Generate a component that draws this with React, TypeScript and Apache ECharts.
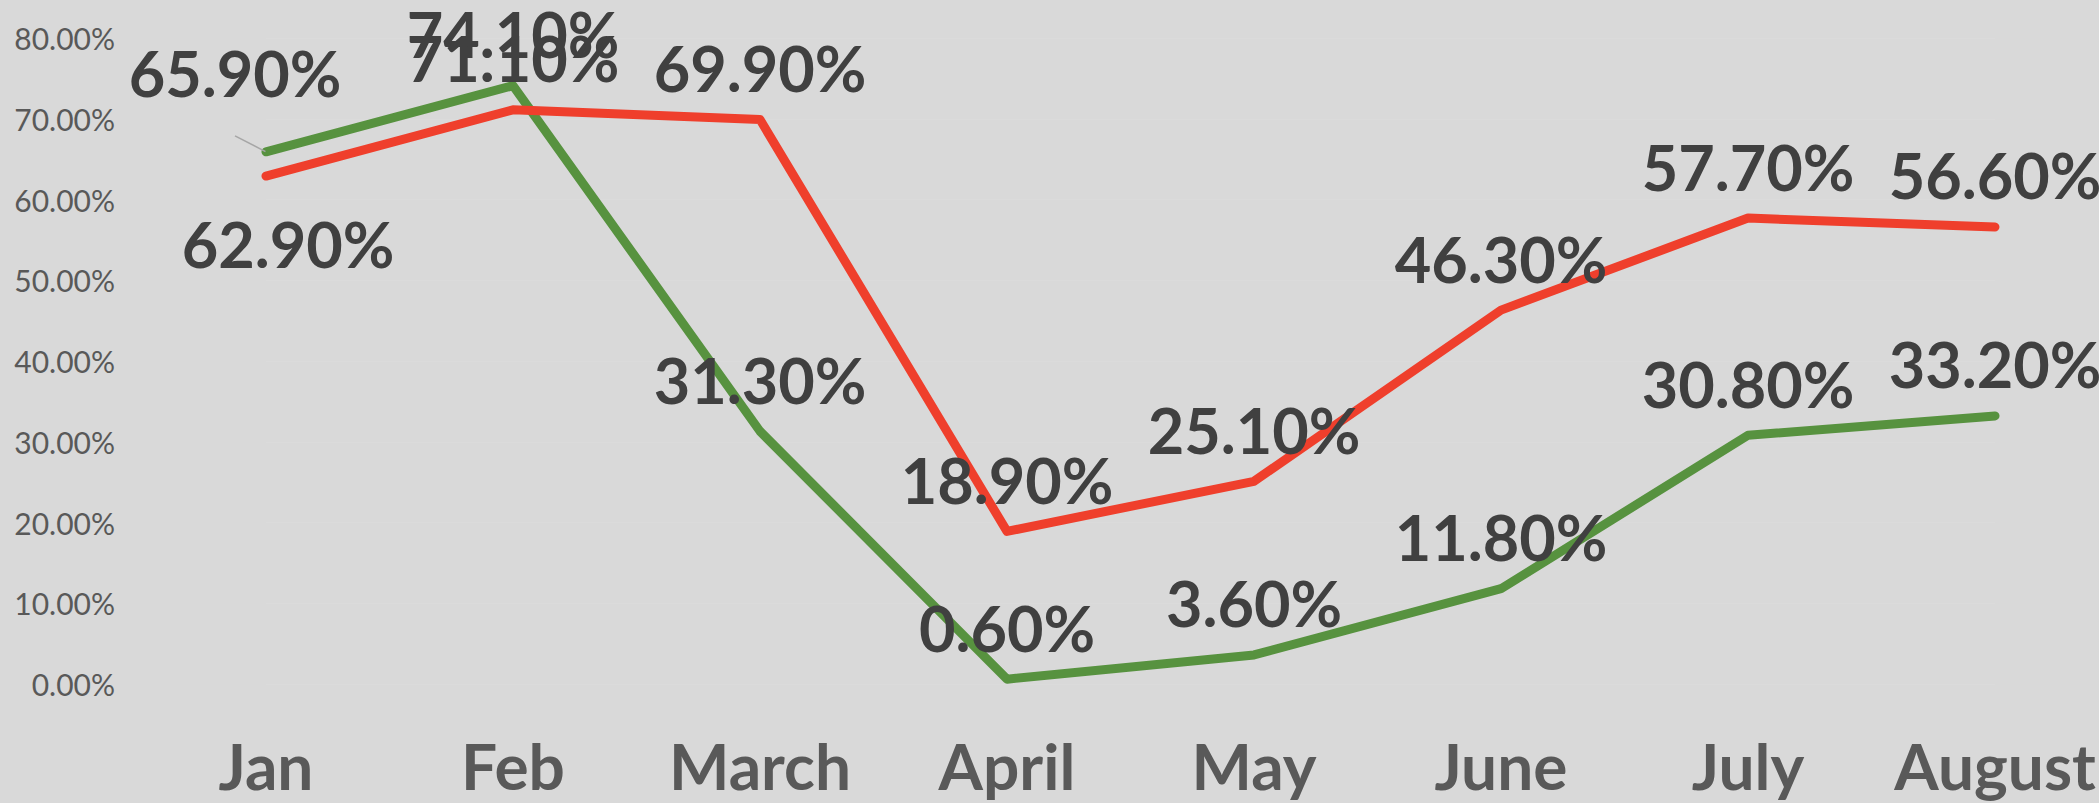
import React, { useEffect, useRef } from "react";
import * as echarts from "echarts";

const months = ["Jan", "Feb", "March", "April", "May", "June", "July", "August"];
const greenValues = [65.9, 74.1, 31.3, 0.6, 3.6, 11.8, 30.8, 33.2];
const redValues = [62.9, 71.1, 69.9, 18.9, 25.1, 46.3, 57.7, 56.6];
const yTicks = { min: 0, max: 80, interval: 10 };

const FONT = "Lato, 'Open Sans', sans-serif";

export default function App() {
  const ref = useRef<HTMLDivElement>(null);
  useEffect(() => {
    if (!ref.current) return;
    const chart = echarts.init(ref.current, null, { renderer: "svg" });
    const baseLabel = {
      show: true,
      position: "top",
      distance: 20,
      fontFamily: FONT,
      fontWeight: "bold",
      fontSize: 63,
      color: "#404040",
      formatter: (p: any) => Number(p.value).toFixed(2) + "%",
    };
    const greenData = greenValues.map((v, i) =>
      i === 0
        ? {
            value: v,
            label: { position: "top", offset: [-31, -27] },
            labelLine: { show: true, lineStyle: { color: "#a6a6a6", width: 1.5 } },
          }
        : v
    );
    const redData = redValues.map((v, i) =>
      i === 0 ? { value: v, label: { position: "bottom", offset: [22, 15] } } : v
    );
    chart.setOption({
      animation: false,
      backgroundColor: "#d9d9d9",
      grid: { left: 266, right: 104, top: 38, bottom: 119 },
      xAxis: {
        type: "category",
        data: months,
        boundaryGap: false,
        axisLine: { show: false },
        axisTick: { show: false },
        axisLabel: {
          interval: 0,
          margin: 49,
          fontFamily: FONT,
          fontWeight: "bold",
          fontSize: 64,
          color: "#595959",
        },
        splitLine: { show: false },
      },
      yAxis: {
        type: "value",
        min: yTicks.min,
        max: yTicks.max,
        interval: yTicks.interval,
        axisLine: { show: false },
        axisTick: { show: false },
        axisLabel: {
          margin: 151,
          fontFamily: FONT,
          fontSize: 30,
          color: "#595959",
          formatter: (v: number) => v.toFixed(2) + "%",
        },
        splitLine: { show: true, lineStyle: { color: "#dbdbdb", width: 1 } },
      },
      series: [
        {
          type: "line",
          data: greenData,
          showSymbol: true,
          symbol: "circle",
          symbolSize: 1,
          itemStyle: { color: "#57923f" },
          lineStyle: { color: "#57923f", width: 9, cap: "round", join: "round" },
          label: baseLabel,
          z: 2,
        },
        {
          type: "line",
          data: redData,
          showSymbol: true,
          symbol: "circle",
          symbolSize: 1,
          itemStyle: { color: "#ef3f2c" },
          lineStyle: { color: "#ef3f2c", width: 9, cap: "round", join: "round" },
          label: baseLabel,
          z: 3,
        },
      ],
    });
    return () => chart.dispose();
  }, []);
  return (
    <div
      ref={ref}
      style={{ position: "absolute", left: 0, top: 0, width: 2099, height: 803 }}
    />
  );
}
